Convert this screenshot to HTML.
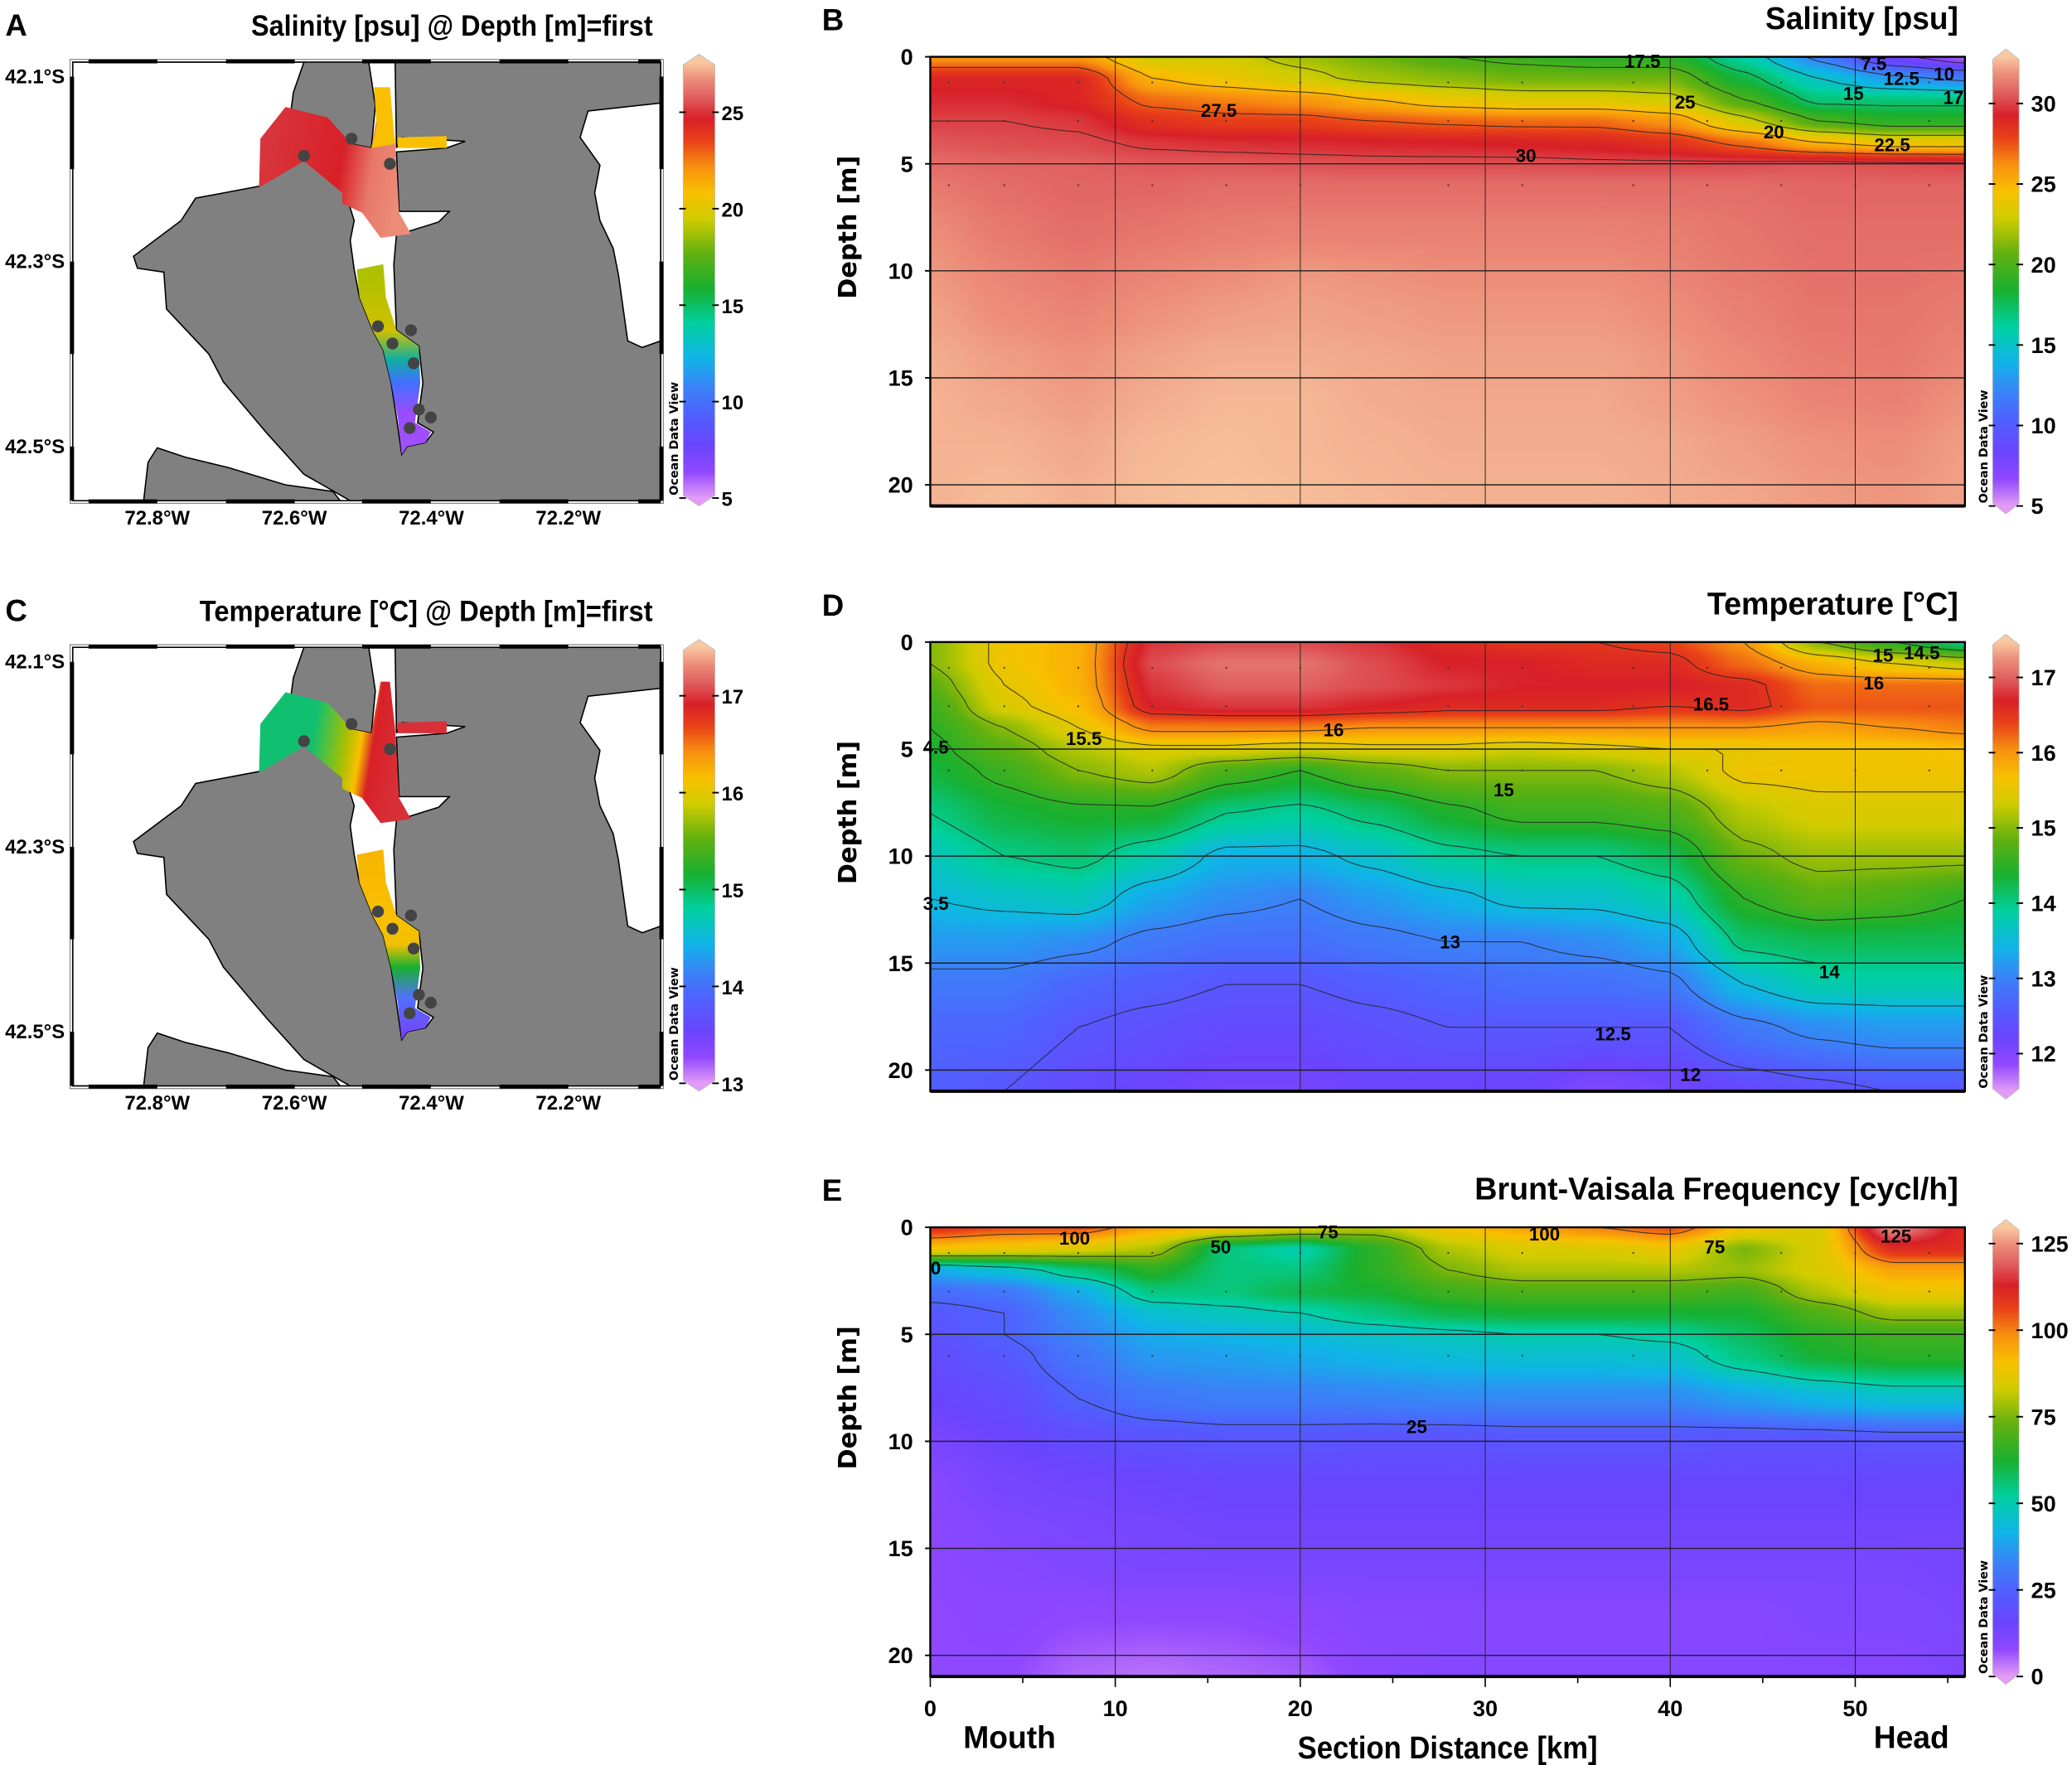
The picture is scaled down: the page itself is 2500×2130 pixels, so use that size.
<!DOCTYPE html>
<html><head><meta charset="utf-8">
<style>
html,body{margin:0;padding:0;background:#fff;}
#wrap{position:relative;width:2500px;height:2130px;overflow:hidden;background:#fff;}
canvas{position:absolute;}
#svg{position:absolute;left:0;top:0;}
.nb{font-family:"Liberation Sans Narrow","Liberation Sans",sans-serif;font-weight:bold;fill:#000;}
.wb{font-family:"DejaVu Sans","Liberation Sans",sans-serif;font-weight:bold;fill:#000;}
</style></head>
<body>
<div id="wrap">
<svg id="svg" width="2500" height="2130" viewBox="0 0 1568 1336"></svg>
</div>
<script>
// ---------- DATA ----------
const distKm=[0,4,8,12,16,20,24,28,32,36,40,44,48,52,56];
const depthM=[0,1,2,3,4,5,6,8,10,12,14,16,18,21];
const salinity=[
[26,26,26,23,23,22,21,20,19.5,19,19,16,12,8,6],
[29,29,29,25,24,23,22,21.5,21,21,21,18,15,13,12],
[29.5,29.5,29,27,26.5,26,25,24,23.5,23.5,23,20,17,17,17],
[30,30,29.8,28.5,28,28,27.5,27.2,27,27,26,23,20,19,19],
[30.5,30.3,30.2,29.8,29.6,29.5,29.4,29.3,29.2,29,28.5,27,25,24,24],
[31,30.8,30.7,30.5,30.5,30.4,30.3,30.3,30.3,30.2,30.2,30.3,30.5,30.3,30.2],
[31.3,31,30.8,30.8,31,31,31,31,31,31,31,31,30.8,30.8,30.8],
[31.8,31.3,31,31.2,31.4,31.5,31.5,31.5,31.5,31.5,31.4,31.2,31,31,31],
[32,31.6,31.3,31.6,31.8,32,31.9,31.8,31.8,31.8,31.6,31.3,31.1,31.1,31.2],
[32.2,31.8,31.6,31.9,32.1,32.2,32.1,32,32,32,31.8,31.5,31.2,31.2,31.4],
[32.4,32.1,31.9,32.2,32.4,32.4,32.3,32.2,32.2,32.2,32,31.7,31.4,31.3,31.6],
[32.5,32.3,32.1,32.4,32.6,32.6,32.4,32.3,32.3,32.3,32.1,31.9,31.6,31.5,31.9],
[32.5,32.5,32.3,32.6,32.7,32.6,32.5,32.4,32.4,32.4,32.3,32.1,31.9,31.8,32.1],
[32.5,32.7,32.5,32.7,32.8,32.7,32.6,32.5,32.5,32.5,32.4,32.3,32.1,32,32.2]];
const temperature=[
[15,15.6,15.8,16.8,16.9,16.9,16.8,16.6,16.5,16.5,16.4,16.0,15.0,14.5,14.0],
[15,15.6,15.8,16.9,17.1,17.1,16.9,16.7,16.7,16.6,16.6,16.2,15.8,15.5,15.3],
[14.8,15.5,15.8,16.8,17,17,16.9,16.8,16.7,16.7,16.7,16.6,16.2,16.2,16.2],
[14.6,15.4,15.7,16.7,16.8,16.8,16.7,16.6,16.6,16.6,16.5,16.6,16.3,16.3,16.3],
[14.5,15.0,15.5,16.1,16.1,16.1,16.0,16.0,16.0,16.0,16.0,16.0,15.9,16.0,16.1],
[14.4,14.8,15.2,15.4,15.4,15.3,15.4,15.4,15.3,15.4,15.5,15.5,15.6,15.6,15.7],
[14.3,14.6,15,15.2,14.7,14.5,14.8,15,15,15,15.2,15.6,15.6,15.6,15.6],
[14,14.3,14.4,14.4,14,13.9,14.1,14.4,14.6,14.6,14.7,15.2,15.4,15.4,15.4],
[13.7,14.0,14.1,13.8,13.4,13.4,13.6,13.9,14.0,14.0,14.2,14.9,15.1,15.1,15.1],
[13.5,13.6,13.7,13.3,13.1,13,13.2,13.4,13.6,13.6,13.8,14.5,14.8,14.7,14.5],
[13.2,13.2,13.1,12.9,12.8,12.8,12.9,13.0,13.0,13.1,13.3,14.1,14.2,14.2,14.2],
[12.9,12.9,12.7,12.6,12.5,12.5,12.6,12.7,12.8,12.8,12.9,13.5,13.8,13.8,13.8],
[12.7,12.7,12.5,12.4,12.3,12.3,12.4,12.5,12.5,12.5,12.5,12.9,13.1,13.2,13.2],
[12.6,12.5,12.3,12.2,12.1,12.1,12.2,12.2,12.2,12.0,12.1,12.3,12.4,12.5,12.5]];
const bvFreq=[
[110,105,105,95,90,85,80,90,95,100,105,90,85,125,110],
[90,88,85,80,55,50,65,80,85,85,88,75,85,110,110],
[40,45,55,65,55,55,65,75,80,80,80,78,85,95,95],
[28,30,40,55,55,60,62,68,70,70,70,68,80,88,88],
[22,25,35,45,48,50,55,60,62,62,62,62,70,78,78],
[20,25,33,40,42,44,46,48,50,50,52,58,65,68,68],
[18,22,30,37,38,40,42,44,45,45,46,55,62,65,65],
[16,18,25,30,32,32,33,34,34,34,34,38,42,45,45],
[12,15,18,20,21,21,20,20,21,21,21,20,20,21,21],
[10,13,14,15,16,16,16,16,16,16,16,16,16,16,16],
[9,11,12,13,14,14,14,14,14,14,14,14,14,14,14],
[9,10,11,12,12,12,12,12,12,12,12,12,12,12,13],
[8,9,8,8,8,9,10,10,10,10,10,10,11,11,12],
[8,8,5,4,5,6,9,10,10,10,10,10,10,10,11]];
const salLevels=[7.5,10,12.5,15,17.5,20,22.5,25,27.5,30];
const tempLevels=[12,12.5,13,13.5,14,14.5,15,15.5,16,16.5];
const bvLevels=[25,50,75,100,125];
const salLabelKm=[38.5,15.6,32.2,40.8,45.6,49.9,52,52.5,54.8,51,55.3];
const salLabelDepth=[0.2,2.5,4.6,2.1,3.5,1.7,4.1,1.0,0.8,0.3,1.9];
const salLabelText=["17.5","27.5","30","25","20","15","22.5","12.5","10","7.5","17"];
const tempLabelKm=[42.2,21.8,8.3,31,0.3,0.3,28.1,36.9,41.1,48.6,51,51.5,53.6];
const tempLabelDepth=[2.9,4.1,4.5,6.9,4.9,12.2,14,18.3,20.2,15.4,1.9,0.6,0.5];
const tempLabelText=["16.5","16","15.5","15","4.5","3.5","13","12.5","12","14","16","15","14.5"];
const bvLabelKm=[7.8,15.7,21.5,33.2,42.4,52.2,26.3,0.3];
const bvLabelDepth=[0.5,0.9,0.2,0.3,0.9,0.4,9.3,1.9];
const bvLabelText=["100","50","75","100","75","125","25","0"];
const depthTicks=[0,5,10,15,20];
const distTicks=[0,10,20,30,40,50];
const salBarTicks=[5,10,15,20,25,30];
const tempBarTicks=[12,13,14,15,16,17];
const bvBarTicks=[0,25,50,75,100,125];
const mapSalTicks=[5,10,15,20,25];
const mapTempTicks=[13,14,15,16,17];
const latTicks=["42.1°S","42.3°S","42.5°S"];
const lonTicks=["72.8°W","72.6°W","72.4°W","72.2°W"];

// ---------- helpers ----------
const SC=2500/1568;
const NS="http://www.w3.org/2000/svg";
const svg=document.getElementById('svg');
function el(tag,attrs,parent,txt){const e=document.createElementNS(NS,tag);for(const k in attrs)e.setAttribute(k,attrs[k]);if(txt!==undefined)e.textContent=txt;(parent||svg).appendChild(e);return e;}
const stops=[[0,'#e39cf5'],[0.06,'#9048ff'],[0.12,'#6a44ff'],[0.19,'#5060ff'],[0.25,'#3c80f8'],[0.32,'#10b4e8'],[0.40,'#00d0a0'],[0.48,'#18b030'],[0.56,'#60b010'],[0.64,'#d0cc00'],[0.70,'#f8c000'],[0.76,'#f89010'],[0.82,'#e84018'],[0.87,'#d82028'],[0.92,'#e06060'],[0.96,'#ec8c78'],[1,'#f8c8a0']];
const stopRGB=stops.map(s=>[s[0],parseInt(s[1].slice(1,3),16),parseInt(s[1].slice(3,5),16),parseInt(s[1].slice(5,7),16)]);
function cmap(t){t=Math.max(0,Math.min(1,t));for(let i=1;i<stopRGB.length;i++){if(t<=stopRGB[i][0]){const a=stopRGB[i-1],b=stopRGB[i];const f=(t-a[0])/(b[0]-a[0]);return [a[1]+(b[1]-a[1])*f,a[2]+(b[2]-a[2])*f,a[3]+(b[3]-a[3])*f];}}return stopRGB[stopRGB.length-1].slice(1);}
function idx(arr,v){if(v<=arr[0])return [0,0];const n=arr.length-1;if(v>=arr[n])return [n-1,1];for(let i=0;i<n;i++){if(v<=arr[i+1])return [i,(v-arr[i])/(arr[i+1]-arr[i])];}return [n-1,1];}
function interp(grid,km,d){const [i,fx]=idx(distKm,km);const [j,fy]=idx(depthM,d);const sx=fx*fx*(3-2*fx)*0.5+fx*0.5,sy=fy*fy*(3-2*fy)*0.5+fy*0.5;
 const a=grid[j][i],b=grid[j][i+1],c=grid[j+1][i],e=grid[j+1][i+1];return (a*(1-sx)+b*sx)*(1-sy)+(c*(1-sx)+e*sx)*sy;}

const PX0=704,PX1=1487,KMPX=14,DPX=16.2;
function xS(km){return PX0+km*KMPX;}

function section(cfg){
 const top=cfg.top, bot=top+340;
 function yS(d){return top+d*DPX;}
 const cv=document.createElement('canvas');
 
 
 const W=Math.round((PX1-PX0)*SC),H=Math.round(340*SC);
 cv.width=W;cv.height=H;cv.style.left=(PX0*SC)+'px';cv.style.top=(top*SC)+'px';
 document.getElementById('wrap').insertBefore(cv,svg);
 const ctx=cv.getContext('2d');const img=ctx.createImageData(W,H);
 for(let py=0;py<H;py++){const d=(py/SC)/DPX;for(let px=0;px<W;px++){const km=(px/SC)/KMPX;const v=interp(cfg.grid,km,d);const c=cmap((v-cfg.vmin)/(cfg.vmax-cfg.vmin));const k=(py*W+px)*4;img.data[k]=c[0];img.data[k+1]=c[1];img.data[k+2]=c[2];img.data[k+3]=255;}}
 ctx.putImageData(img,0,0);
 const g=el('g',{});
 const nx=112,ny=84,kmMax=(PX1-PX0)/KMPX,dMax=340/DPX;
 const vals=[];for(let j=0;j<=ny;j++){const row=[];for(let i=0;i<=nx;i++)row.push(interp(cfg.grid,i*kmMax/nx,j*dMax/ny));vals.push(row);}
 const cg=el('g',{},g);
 cfg.levels.forEach(L=>{let dstr='';
  for(let j=0;j<ny;j++)for(let i=0;i<nx;i++){
   const v=[vals[j][i],vals[j][i+1],vals[j+1][i+1],vals[j+1][i]];
   const P=[[i,j],[i+1,j],[i+1,j+1],[i,j+1]];const pts=[];
   for(let e=0;e<4;e++){const a=v[e],b=v[(e+1)%4];if((a<L)!==(b<L)){const f=(L-a)/(b-a);const pa=P[e],pb=P[(e+1)%4];pts.push([pa[0]+(pb[0]-pa[0])*f,pa[1]+(pb[1]-pa[1])*f]);}}
   for(let k=0;k+1<pts.length;k+=2){const p=pts[k],q=pts[k+1];dstr+='M'+xS(p[0]*kmMax/nx).toFixed(1)+' '+yS(p[1]*dMax/ny).toFixed(1)+'L'+xS(q[0]*kmMax/nx).toFixed(1)+' '+yS(q[1]*dMax/ny).toFixed(1);}
  }
  const pth=el('path',{d:dstr,fill:'none',stroke:'#222','stroke-width':0.7,'stroke-opacity':0.8},cg);
  
  
 });
 distTicks.slice(1).forEach(k=>{const l=el('line',{x1:xS(k),x2:xS(k),y1:top,y2:bot,stroke:'#222','stroke-width':0.6},g);});
 depthTicks.slice(1).forEach(d=>{const l=el('line',{x1:PX0,x2:PX1,y1:yS(d),y2:yS(d),stroke:'#222','stroke-width':0.9},g);});
 [1,4,8,12,16,20,28,32,38,42,46,50,54].forEach(k=>[1.2,3,6].forEach(d=>{el('rect',{x:xS(k)-0.6,y:yS(d)-0.6,width:1.2,height:1.2,fill:'#333'},g);}));
 cfg.lk.forEach((k,i)=>{const t=el('text',{x:xS(k),y:yS(cfg.ld[i])+5,'font-size':14,'text-anchor':'middle',class:'nb'},g,cfg.lt[i]);});
 el('rect',{x:PX0,y:top,width:PX1-PX0,height:340,fill:'none',stroke:'#000','stroke-width':1.5},g);
 el('line',{x1:PX0,x2:PX1,y1:bot,y2:bot,stroke:'#000','stroke-width':2.5},g);
 depthTicks.forEach(d=>{el('line',{x1:PX0-4,x2:PX0,y1:yS(d),y2:yS(d),stroke:'#000','stroke-width':1.2},g);
  const t=el('text',{x:691,y:yS(d)+6,'font-size':17,'text-anchor':'end',class:'nb'},g,String(d));});
 const yt=el('text',{x:648,y:(top+bot)/2-41,'font-size':19,'text-anchor':'middle',class:'wb',transform:'rotate(-90 648 '+((top+bot)/2-41)+')'},g,'Depth [m]');
 
 const pl=el('text',{x:622,y:top-20,'font-size':23,class:'nb'},g,cfg.letter);
 const tt=el('text',{x:cfg.tx,y:top-21,'font-size':24,textLength:1482-cfg.tx,lengthAdjust:'spacingAndGlyphs',class:'nb'},g,cfg.title);
 colorbar(g,1508,1528,top,bot,cfg.vmin,cfg.vmax,cfg.ticks,1537,17,cfg.name);
 return {g,yS,bot};
}

let gradId=0;
function colorbar(g,x0,x1,top,bot,vmin,vmax,ticks,lx,fs,name){
 const id='grad'+(gradId++);
 const defs=el('defs',{},g);const lg=el('linearGradient',{id:id,gradientUnits:'userSpaceOnUse',x1:0,x2:0,y1:bot,y2:top},defs);
 stops.forEach(s=>el('stop',{offset:s[0],'stop-color':s[1]},lg));
 const xc=(x0+x1)/2;
 const cb=el('polygon',{points:`${x0},${top+2} ${xc},${top-6} ${x1},${top+2} ${x1},${bot-2} ${xc},${bot+6} ${x0},${bot-2}`,fill:'url(#'+id+')',stroke:'#bbb','stroke-width':0.5},g);
 
 ticks.forEach(v=>{const y=bot-(v-vmin)/(vmax-vmin)*(bot-top);
  el('line',{x1:x0-3,x2:x0+2,y1:y,y2:y,stroke:'#000','stroke-width':1.2},g);
  el('line',{x1:x1-2,x2:x1+3,y1:y,y2:y,stroke:'#000','stroke-width':1.2},g);
  const t=el('text',{x:lx,y:y+6,'font-size':fs,class:'nb'},g,String(v));});
 const ox=x0-4,oy=bot-45;
 const od=el('text',{x:ox,y:oy,'font-size':9,'text-anchor':'middle',class:'wb',transform:`rotate(-90 ${ox} ${oy})`},g,'Ocean Data View');
 
}

section({name:'salinity',top:43,grid:salinity,vmin:5,vmax:32.9,levels:salLevels,lk:salLabelKm,ld:salLabelDepth,lt:salLabelText,letter:'B',title:'Salinity [psu]',tx:1336,ticks:salBarTicks});
section({name:'temperature',top:486,grid:temperature,vmin:11.5,vmax:17.47,levels:tempLevels,lk:tempLabelKm,ld:tempLabelDepth,lt:tempLabelText,letter:'D',title:'Temperature [°C]',tx:1292,ticks:tempBarTicks});
const E=section({name:'bv-frequency',top:929,grid:bvFreq,vmin:0,vmax:129.7,levels:bvLevels,lk:bvLabelKm,ld:bvLabelDepth,lt:bvLabelText,letter:'E',title:'Brunt-Vaisala Frequency [cycl/h]',tx:1116,ticks:bvBarTicks});
for(let k=0;k<=55;k+=5){el('line',{x1:xS(k),x2:xS(k),y1:1269,y2:k%10===0?1277:1274,stroke:'#000','stroke-width':1},E.g);}
distTicks.forEach(k=>{const t=el('text',{x:xS(k),y:1299,'font-size':17,'text-anchor':'middle',class:'nb'},E.g,String(k));});
{const t=el('text',{x:729,y:1323,'font-size':24,textLength:70,lengthAdjust:'spacingAndGlyphs',class:'nb'},E.g,'Mouth');}
{const t=el('text',{x:1418,y:1323,'font-size':24,textLength:57,lengthAdjust:'spacingAndGlyphs',class:'nb'},E.g,'Head');}
{const t=el('text',{x:982,y:1331,'font-size':24,textLength:227,lengthAdjust:'spacingAndGlyphs',class:'nb'},E.g,'Section Distance [km]');}

// ---------- MAPS ----------
function mapPanel(oy,letter,title,variant,barTicks,bmin,bmax){
 const g=el('g',{transform:`translate(0 ${oy})`});
 const cid='clip'+variant;
 const defs=el('defs',{},g);const cp=el('clipPath',{id:cid},defs);el('rect',{x:55,y:47,width:445,height:332},cp);
 const m=el('g',{'clip-path':`url(#${cid})`},g);
 el('rect',{x:55,y:47,width:445,height:332,fill:'#808080'},m);
 const wat='fill:#fff;stroke:#000;stroke-width:1';
 el('polygon',{points:'55,47 230,47 222,70 218,100 230,118 196,141 148,150 137,167 101,194 104,203 124,206 126,234 158,268 169,289 202,328 230,359 265,379 55,379',style:wat},m);
 el('polygon',{points:'108,385 112,350 119,339 140,346 173,354 216,367 252,372 262,385',fill:'#808080',stroke:'#000','stroke-width':1},m);
 el('polygon',{points:'445,84 500,78 500,258 486,263 475,258 468,208 464,188 454,167 450,146 454,125 439,104',style:wat},m);
 el('polygon',{points:'279,47 299,47 300,112 304,104 352,107 338,112 300,115 302,160 340,160 332,168 300,178 298,200 300,250 317,262 320,290 316,320 328,327 322,335 308,338 304,344 300,316 296,290 290,265 282,250 272,225 268,204 265,182 268,167 263,151 259,141 266,109 281,112 284,80 281,60',style:wat},m);
 let colors;
 if(variant==='salinity'){colors={arm:'#f8c000',up:['#a8c000','#d0c000','#10b0a0','#4070ff','#9a4cff','#a050ff']};}
 else{colors={arm:'#d83038',up:['#f8b400','#f8c000','#f0c000','#18b030','#5070ff','#7a40ff']};}
 const gid='mg'+variant;
 const lg=el('linearGradient',{id:gid,x1:0,x2:1,y1:0,y2:0.15},defs);
 if(variant==='salinity'){el('stop',{offset:0,'stop-color':'#d83840'},lg);el('stop',{offset:0.6,'stop-color':'#d82028'},lg);el('stop',{offset:0.8,'stop-color':'#e87868'},lg);el('stop',{offset:1,'stop-color':'#ec8c78'},lg);}
 else{el('stop',{offset:0,'stop-color':'#10c070'},lg);el('stop',{offset:0.4,'stop-color':'#10c070'},lg);el('stop',{offset:0.62,'stop-color':'#a8c000'},lg);el('stop',{offset:0.72,'stop-color':'#f8c000'},lg);el('stop',{offset:0.8,'stop-color':'#d82028'},lg);el('stop',{offset:1,'stop-color':'#d83038'},lg);}
 const mouth=el('polygon',{points:'196,142 197,105 216,81 248,89 266,109 281,112 288,73 295,73 299,109 302,161 311,177 288,180 274,161 259,154 259,146 230,122',fill:`url(#${gid})`},m);
 
 el('polygon',{points:'301,104 338,103 338,112 301,112',fill:colors.arm},m);
 if(variant==='salinity')el('polygon',{points:'283,66 295,66 299,109 281,112 285,95',fill:'#f8c000'},m);
 const ug='ug'+variant;
 const lg2=el('linearGradient',{id:ug,x1:0,x2:0,y1:0,y2:1},defs);
 const offs=[0,0.35,0.5,0.62,0.78,1];
 colors.up.forEach((c,i)=>el('stop',{offset:offs[i],'stop-color':c},lg2));
 const up=el('polygon',{points:'270,204 290,200 292,225 300,250 317,262 318,290 314,320 326,327 322,335 308,338 304,344 301,316 296,290 290,265 282,250 272,225',fill:`url(#${ug})`},m);
 
 [[266,105],[230,118],[295,124],[286,247],[311,250],[297,260],[313,275],[317,310],[326,316],[310,324]].forEach(p=>{const c=el('circle',{cx:p[0],cy:p[1],r:4.5,fill:'#444'},m);});
 el('rect',{x:55,y:47,width:445,height:332,fill:'none',stroke:'#000','stroke-width':1},g);
 el('rect',{x:53,y:45,width:449,height:336,fill:'none',stroke:'#888','stroke-width':0.8},g);
 [[67,119],[171,223],[274,326],[378,430],[483,500]].forEach(s=>{el('line',{x1:s[0],x2:s[1],y1:46.5,y2:46.5,stroke:'#000','stroke-width':3},g);el('line',{x1:s[0],x2:s[1],y1:379.5,y2:379.5,stroke:'#000','stroke-width':3},g);});
 [[58,128],[198,268],[338,379]].forEach(s=>{el('line',{x1:54.5,x2:54.5,y1:s[0],y2:s[1],stroke:'#000','stroke-width':3},g);el('line',{x1:500.5,x2:500.5,y1:s[0],y2:s[1],stroke:'#000','stroke-width':3},g);});
 latTicks.forEach((s,i)=>{const t=el('text',{x:49,y:63+i*140,'font-size':15,'text-anchor':'end',class:'nb'},g,s);});
 lonTicks.forEach((s,i)=>{const t=el('text',{x:119+i*103.7,y:397,'font-size':15,'text-anchor':'middle',class:'nb'},g,s);});
 const pl=el('text',{x:4,y:27,'font-size':23,class:'nb'},g,letter);
 const tw=variant==='salinity'?304:343;
 const tt=el('text',{x:494-tw,y:27,'font-size':22,textLength:tw,lengthAdjust:'spacingAndGlyphs',class:'nb'},g,title);
 colorbar(g,517,541,47,377,bmin,bmax,barTicks,546,15,variant+'-map');
}
mapPanel(0,'A','Salinity [psu] @ Depth [m]=first','salinity',mapSalTicks,5,27.6);
mapPanel(443,'C','Temperature [°C] @ Depth [m]=first','temperature',mapTempTicks,13,17.5);
</script>
</body></html>
